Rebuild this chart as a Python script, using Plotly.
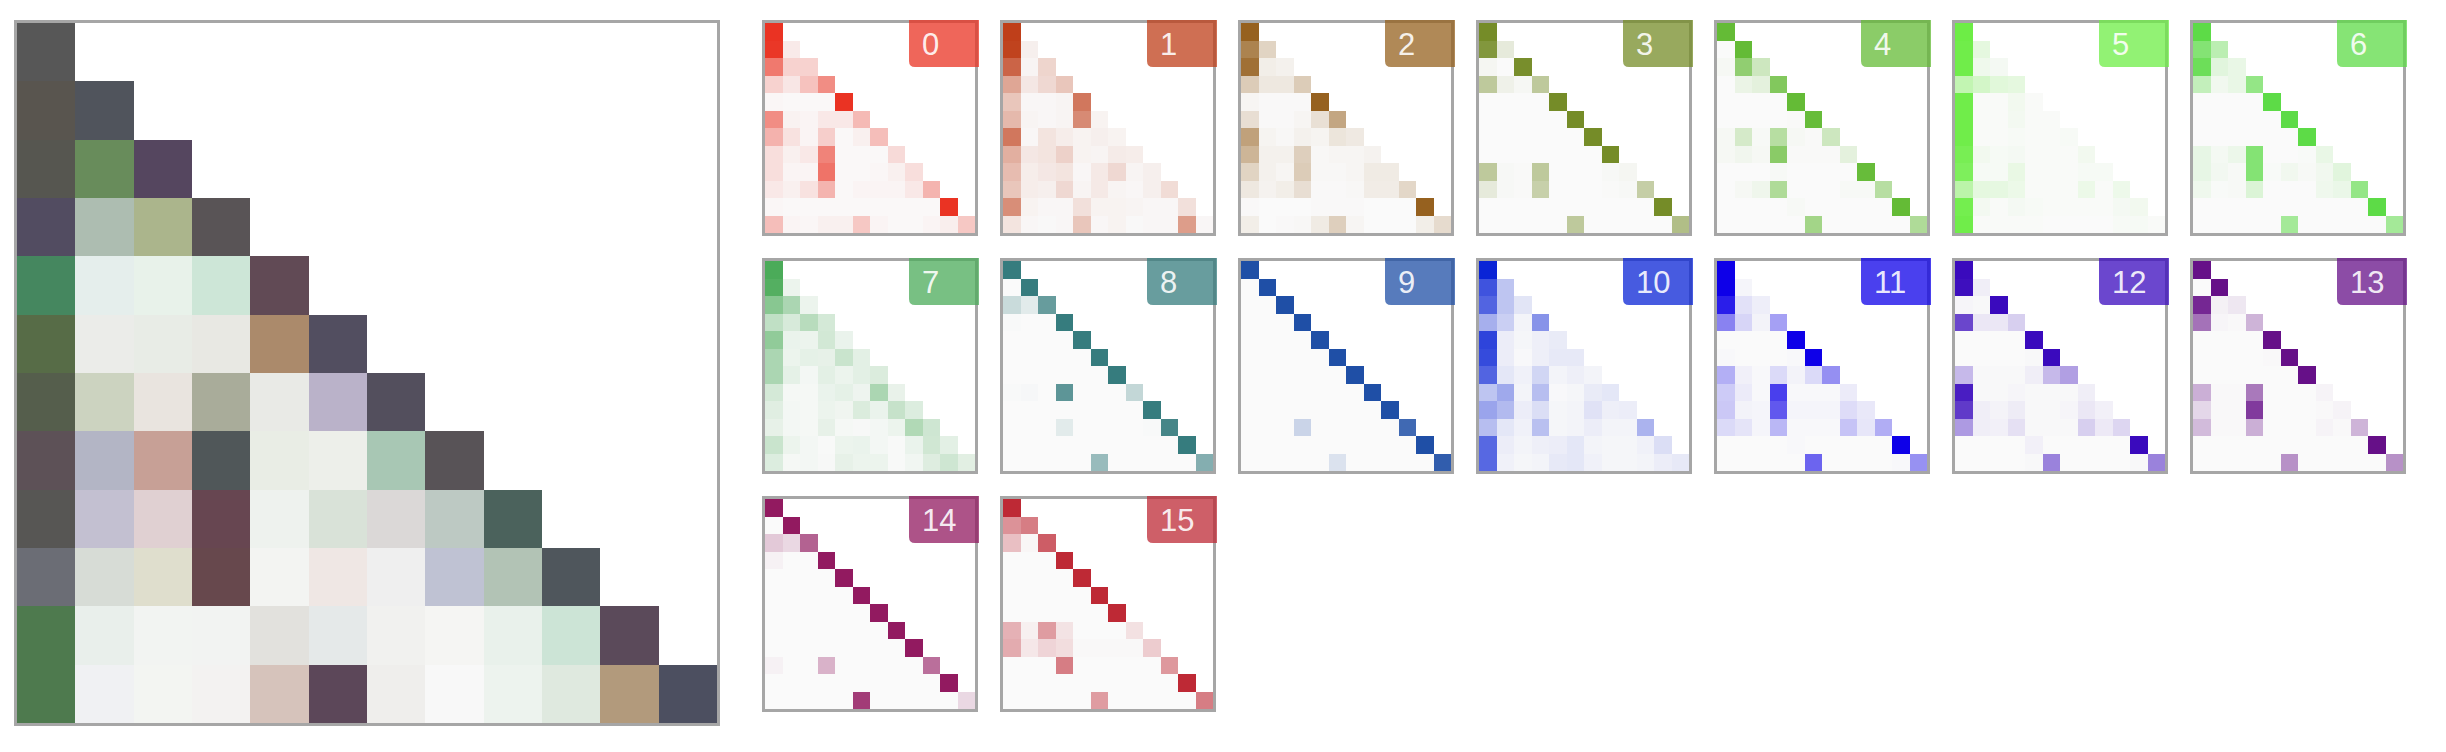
import plotly.graph_objects as go

W, H = 2446, 752

# 16 class colours at full intensity
class_colors = ["#ea3323", "#bf3f1a", "#96611f", "#758c28", "#64bb36", "#6ded46", "#5ddb47", "#4bab59",
                "#367c7e", "#1f4fa6", "#0a24d6", "#0e00e8", "#3a0abd", "#661088", "#921a60", "#be2935"]
class_labels = [str(i) for i in range(16)]

# Combined matrix: blended colour read for every cell
main_cells = [
    ["#575757"],
    ["#59554f", "#50545c"],
    ["#565650", "#688c5b", "#55465f"],
    ["#524c61", "#adbdb1", "#abb58c", "#595456"],
    ["#45875f", "#e5eeec", "#e8f2ea", "#cde6d7", "#614a55"],
    ["#576c47", "#ebece9", "#e8ece6", "#e8e8e3", "#ab8a6b", "#524e60"],
    ["#555e4c", "#ccd3c0", "#e9e4df", "#a9ac9a", "#e9eae6", "#bab2c9", "#534f5d"],
    ["#5d5157", "#b3b5c5", "#c7a096", "#505759", "#e9ede5", "#edefea", "#a8c7b4", "#585357"],
    ["#575654", "#c3c0d1", "#e0d0d2", "#674651", "#eef2ee", "#d9e2d8", "#dbd8d7", "#bdc9c3", "#4b625c"],
    ["#6b6d75", "#d7dcd6", "#dfdecd", "#67484d", "#f3f4f2", "#efe7e4", "#efefef", "#bfc2d3", "#b2c3b5", "#4f565c"],
    ["#4e7a4e", "#e9efeb", "#f2f4f2", "#f2f3f2", "#e2e1dd", "#e5e9e9", "#f1f1ef", "#f5f5f3", "#e9f1eb", "#cce4d6", "#5b4a5a"],
    ["#4e7a4e", "#f0f1f3", "#f3f5f2", "#f3f2f1", "#d6c3bb", "#5c4759", "#efeeec", "#f8f8f8", "#edf3ee", "#dfe9df", "#b29a7c", "#4c4f60"],
]

# Per-class matrices: intensity 0-100 in a lower triangle
m0 = [[100], [98, 8], [65, 20, 20], [20, 10, 28, 55], [2, 1, 1, 1, 100], [55, 4, 3, 9, 9, 32],
      [36, 12, 3, 22, 1, 5, 30], [14, 5, 9, 60, 1, 1, 1, 16], [14, 3, 3, 68, 1, 1, 2, 5, 14],
      [9, 5, 12, 35, 1, 3, 3, 3, 9, 35], [2, 1, 1, 1, 1, 1, 1, 1, 1, 1, 100], [30, 3, 2, 5, 5, 25, 3, 1, 1, 3, 6, 25]]
m1 = [[100], [98, 6], [80, 3, 20], [45, 10, 18, 28], [28, 2, 2, 3, 70], [35, 3, 2, 3, 60, 4],
      [70, 2, 12, 7, 4, 6, 4], [40, 10, 12, 22, 4, 3, 8, 7], [33, 7, 10, 12, 2, 9, 18, 3, 6],
      [28, 7, 6, 18, 3, 9, 3, 2, 6, 16], [58, 4, 2, 2, 14, 4, 4, 3, 2, 2, 14], [12, 2, 1, 2, 28, 2, 4, 1, 2, 2, 50, 2]]
m2 = [[100], [78, 25], [90, 8, 6], [30, 12, 12, 30], [3, 1, 1, 1, 100], [18, 1, 1, 3, 17, 55],
      [58, 4, 2, 6, 4, 14, 11], [45, 6, 6, 28, 2, 3, 3, 5], [25, 6, 3, 30, 2, 2, 3, 10, 10],
      [12, 5, 8, 18, 1, 1, 2, 9, 9, 23], [1, 0, 0, 0, 1, 1, 1, 0, 0, 0, 100], [8, 0, 1, 2, 10, 28, 3, 0, 0, 0, 8, 20]]
m3 = [[100], [90, 15], [4, 0, 98], [45, 8, 3, 45], [0, 0, 0, 0, 100], [0, 0, 0, 0, 0, 100],
      [0, 0, 0, 0, 0, 0, 100], [0, 0, 0, 0, 0, 0, 0, 100], [45, 2, 1, 45, 0, 0, 0, 2, 4],
      [15, 2, 1, 38, 0, 0, 0, 1, 2, 40], [0, 0, 0, 0, 0, 0, 0, 0, 0, 0, 100], [0, 0, 0, 0, 0, 45, 0, 0, 0, 0, 0, 55]]
m4 = [[100], [0, 100], [3, 70, 30], [0, 10, 15, 80], [0, 0, 0, 0, 100], [0, 0, 0, 0, 1, 98],
      [3, 25, 2, 45, 3, 1, 30], [3, 6, 3, 75, 1, 1, 1, 15], [0, 0, 0, 2, 0, 0, 0, 0, 98],
      [0, 3, 7, 50, 0, 0, 0, 2, 2, 45], [0, 0, 0, 0, 2, 0, 0, 0, 0, 0, 100], [0, 0, 0, 0, 0, 58, 0, 0, 0, 0, 0, 50]]
m5 = [[100], [98, 15], [98, 8, 4], [40, 28, 18, 15], [98, 1, 1, 6, 1], [98, 1, 1, 5, 1, 1],
      [98, 1, 1, 2, 1, 1, 2], [92, 6, 3, 4, 1, 1, 1, 6], [88, 3, 3, 12, 1, 1, 1, 3, 3],
      [45, 15, 14, 10, 1, 1, 1, 10, 1, 9], [95, 5, 1, 4, 2, 1, 1, 1, 1, 4, 6], [98, 1, 1, 1, 1, 0, 0, 0, 0, 2, 3, 1]]
m6 = [[100], [75, 40], [90, 16, 11], [35, 6, 11, 65], [0, 0, 0, 0, 100], [0, 0, 0, 0, 0, 100],
      [0, 0, 0, 0, 0, 0, 100], [12, 4, 9, 75, 0, 0, 1, 11], [12, 5, 2, 75, 1, 6, 2, 6, 16],
      [7, 1, 2, 20, 0, 0, 0, 7, 10, 65], [0, 0, 0, 0, 0, 0, 0, 0, 0, 0, 100], [0, 0, 0, 0, 0, 55, 0, 0, 0, 0, 0, 55]]
m7 = [[100], [95, 8], [65, 45, 8], [33, 20, 38, 22], [60, 9, 8, 23, 9], [45, 8, 12, 11, 28, 13],
      [45, 12, 4, 13, 8, 13, 18], [22, 3, 3, 9, 12, 7, 45, 10], [15, 4, 3, 8, 6, 18, 9, 30, 17],
      [11, 4, 3, 11, 3, 2, 4, 8, 42, 25], [28, 8, 4, 1, 8, 9, 4, 1, 9, 24, 13], [17, 3, 4, 2, 11, 8, 8, 1, 5, 16, 25, 14]]
m8 = [[100], [0, 100], [25, 12, 75], [1, 0, 0, 100], [0, 0, 0, 0, 100], [0, 0, 0, 0, 0, 100],
      [0, 0, 0, 0, 0, 0, 100], [1, 2, 0, 80, 0, 0, 0, 28], [0, 0, 0, 0, 0, 0, 0, 0, 100],
      [0, 0, 0, 12, 0, 0, 0, 0, 1, 92], [0, 0, 0, 0, 0, 0, 0, 0, 0, 0, 100], [0, 0, 0, 0, 0, 50, 0, 0, 0, 0, 0, 60]]
m9 = [[100], [0, 100], [0, 0, 100], [0, 0, 0, 100], [0, 0, 0, 0, 100], [0, 0, 0, 0, 0, 100],
      [0, 0, 0, 0, 0, 0, 100], [0, 0, 0, 0, 0, 0, 0, 100], [0, 0, 0, 0, 0, 0, 0, 0, 100],
      [0, 0, 0, 22, 0, 0, 0, 0, 0, 85], [0, 0, 0, 0, 0, 0, 0, 0, 0, 0, 100], [0, 0, 0, 0, 0, 14, 0, 0, 0, 0, 0, 92]]
m10 = [[100], [78, 25], [70, 25, 10], [35, 20, 3, 48], [85, 6, 2, 5, 7], [82, 6, 1, 5, 8, 8],
       [70, 9, 4, 17, 3, 5, 3], [25, 38, 3, 28, 1, 2, 7, 9], [40, 30, 6, 13, 2, 3, 11, 5, 6],
       [28, 9, 4, 27, 2, 3, 6, 3, 3, 33], [68, 6, 3, 5, 6, 9, 3, 2, 2, 4, 13], [68, 4, 2, 3, 8, 9, 4, 2, 2, 3, 6, 8]]
m11 = [[100], [100, 2], [88, 10, 5], [48, 15, 3, 36], [0, 0, 0, 0, 100], [1, 0, 0, 0, 1, 100],
       [30, 4, 1, 13, 3, 13, 43], [19, 6, 1, 75, 1, 1, 1, 6], [20, 3, 2, 65, 2, 2, 2, 12, 7],
       [13, 9, 2, 27, 1, 1, 1, 22, 8, 31], [0, 0, 0, 0, 1, 0, 0, 0, 0, 0, 100], [0, 0, 0, 0, 0, 60, 0, 0, 0, 0, 1, 42]]
m12 = [[100], [98, 5], [2, 1, 100], [75, 8, 8, 18], [0, 0, 0, 0, 100], [0, 0, 0, 0, 1, 100],
       [27, 1, 1, 1, 5, 27, 38], [92, 1, 1, 2, 1, 1, 1, 5], [80, 5, 3, 6, 1, 1, 2, 8, 4],
       [40, 5, 4, 11, 1, 1, 1, 18, 7, 15], [0, 0, 0, 0, 4, 0, 0, 0, 0, 0, 100], [0, 0, 0, 0, 1, 50, 0, 0, 0, 0, 1, 50]]
m13 = [[100], [0, 100], [90, 4, 8], [58, 2, 1, 30], [0, 0, 0, 0, 100], [0, 0, 0, 0, 1, 100],
       [0, 0, 0, 0, 0, 0, 100], [32, 1, 1, 55, 0, 0, 0, 3], [15, 1, 1, 82, 0, 0, 0, 1, 3],
       [27, 1, 1, 32, 0, 0, 0, 3, 1, 30], [0, 0, 0, 0, 0, 0, 0, 0, 0, 0, 100], [0, 0, 0, 0, 0, 45, 0, 0, 0, 0, 0, 45]]
m14 = [[100], [0, 100], [22, 15, 68], [4, 0, 0, 100], [0, 0, 0, 0, 100], [0, 0, 0, 0, 0, 100],
       [0, 0, 0, 0, 0, 0, 100], [0, 0, 0, 0, 0, 0, 0, 100], [0, 0, 0, 0, 0, 0, 0, 0, 100],
       [4, 0, 0, 32, 0, 0, 0, 0, 0, 62], [0, 0, 0, 0, 0, 0, 0, 0, 0, 0, 100], [0, 0, 0, 0, 0, 85, 0, 0, 0, 0, 0, 15]]
m15 = [[100], [50, 60], [28, 2, 75], [0, 0, 0, 100], [0, 0, 0, 0, 100], [0, 0, 0, 0, 0, 100],
       [0, 0, 0, 0, 0, 0, 100], [35, 5, 45, 11, 0, 0, 0, 12], [38, 9, 18, 14, 1, 1, 1, 1, 22],
       [0, 0, 0, 60, 0, 0, 0, 0, 0, 47], [0, 0, 0, 0, 0, 0, 0, 0, 0, 0, 100], [0, 0, 0, 0, 0, 45, 0, 0, 0, 0, 0, 60]]
class_matrices = [m0, m1, m2, m3, m4, m5, m6, m7, m8, m9, m10, m11, m12, m13, m14, m15]

N = 12
BASE = "#fafafa"
FRAME = "#a6a6a6"


def pad(rows):
    return [list(r) + [None] * (N - len(r)) for r in rows]


def rgba(hex_color, a):
    r, g, b = (int(hex_color[i:i + 2], 16) for i in (1, 3, 5))
    return f"rgba({r},{g},{b},{a})"


fig = go.Figure()


def add_axes(n, left, top, width, height, line_width):
    common = dict(showgrid=False, zeroline=False, showticklabels=False, ticks="", showline=True,
                  mirror=True, linecolor=FRAME, linewidth=line_width, fixedrange=True)
    xa = dict(domain=[left / W, (left + width) / W], range=[-0.5, N - 0.5], anchor=f"y{n}", **common)
    ya = dict(domain=[1 - (top + height) / H, 1 - top / H], range=[N - 0.5, -0.5], anchor=f"x{n}", **common)
    fig.update_layout({f"xaxis{n}": xa, f"yaxis{n}": ya})


# Large combined panel: discrete scale holding each cell's colour
flat = [c for row in main_cells for c in row]
count = len(flat)
stops = []
for i, c in enumerate(flat):
    stops += [[i / count, c], [(i + 1) / count, c]]
z_main = []
k = 0
for row in main_cells:
    zr = []
    for _ in row:
        zr.append(k + 0.5)
        k += 1
    z_main.append(zr)
fig.add_trace(go.Heatmap(z=pad(z_main), zmin=0, zmax=count, colorscale=stops, showscale=False,
                         hoverongaps=False, xaxis="x", yaxis="y"))
add_axes("", 17, 23, 700, 700, 3)

# Small multiples
COL_LEFT = [765 + 238 * i for i in range(7)]
ROW_TOP = [23, 261, 499]
SIZE = 210
BADGE_W, BADGE_H, R = 70, 47, 6
shapes, annotations = [], []
for idx, matrix in enumerate(class_matrices):
    n = idx + 2
    row, col = idx // 7, idx % 7
    left, top = COL_LEFT[col], ROW_TOP[row]
    fig.add_trace(go.Heatmap(z=pad(matrix), zmin=0, zmax=100,
                             colorscale=[[0, BASE], [1, class_colors[idx]]], showscale=False,
                             hoverongaps=False, xaxis=f"x{n}", yaxis=f"y{n}"))
    add_axes(n, left, top, SIZE, SIZE, 3)

    x1 = left + SIZE + 4
    x0 = x1 - BADGE_W
    y0 = top - 3
    y1 = y0 + BADGE_H
    px = lambda v: v / W
    py = lambda v: 1 - v / H
    path = (f"M{px(x0)},{py(y0)} L{px(x1)},{py(y0)} L{px(x1)},{py(y1)} L{px(x0 + R)},{py(y1)} "
            f"Q{px(x0)},{py(y1)} {px(x0)},{py(y1 - R)} Z")
    shapes.append(dict(type="path", path=path, xref="paper", yref="paper", layer="above",
                       fillcolor=rgba(class_colors[idx], 0.75), line=dict(width=0)))
    annotations.append(dict(text=class_labels[idx], xref="paper", yref="paper", x=px(x0 + 11), y=py(y0 + 24),
                            xanchor="left", yanchor="middle", showarrow=False,
                            font=dict(family="Liberation Sans, Arial, sans-serif", size=31,
                                      color="rgba(255,255,255,0.9)")))

fig.update_layout(width=W, height=H, margin=dict(l=0, r=0, t=0, b=0, pad=0), autosize=False,
                  paper_bgcolor="white", plot_bgcolor="white", showlegend=False,
                  shapes=shapes, annotations=annotations)
fig.write_html("out.html", config={"displayModeBar": False},
               post_script="document.body.style.margin='0';document.body.style.overflow='hidden';")
